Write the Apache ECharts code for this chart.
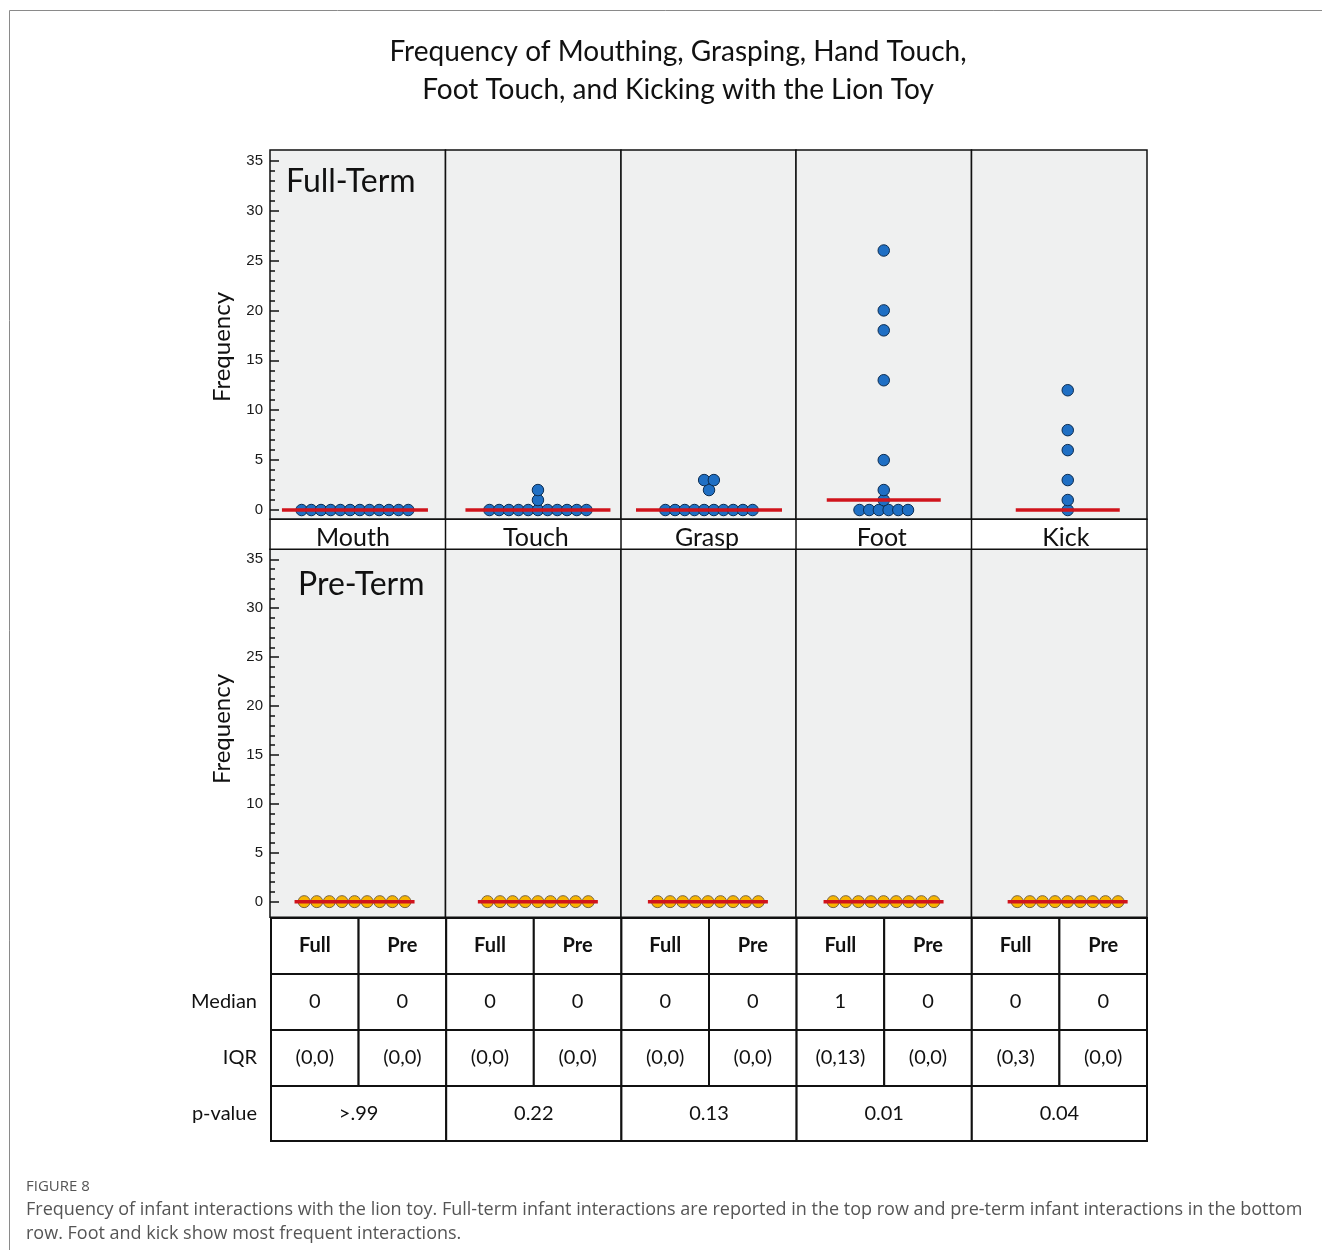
<!DOCTYPE html>
<html>
<head>
<meta charset="utf-8">
<script src="https://cdn.jsdelivr.net/npm/echarts@6/dist/echarts.min.js"></script>
<style>
  html, body { margin: 0; padding: 0; background: #fff; }
  #chart { width: 1322px; height: 1250px; }
</style>
</head>
<body>
<div id="chart"></div>
<script>
// ---------- data ----------
var categories = ['Mouth', 'Touch', 'Grasp', 'Foot', 'Kick'];

// full-term infants: one entry per visible dot
var fullMouth = [0, 0, 0, 0, 0, 0, 0, 0, 0, 0, 0, 0];
var fullTouch = [0, 0, 0, 0, 0, 0, 0, 0, 0, 0, 0, 1, 2];
var fullGrasp = [0, 0, 0, 0, 0, 0, 0, 0, 0, 0, 2, 3, 3];
var fullFoot = [0, 0, 0, 0, 0, 0, 1, 2, 5, 13, 18, 20, 26];
var fullKick = [0, 1, 3, 6, 8, 12];

// pre-term infants
var preMouth = [0, 0, 0, 0, 0, 0, 0, 0, 0];
var preTouch = [0, 0, 0, 0, 0, 0, 0, 0, 0];
var preGrasp = [0, 0, 0, 0, 0, 0, 0, 0, 0];
var preFoot = [0, 0, 0, 0, 0, 0, 0, 0, 0];
var preKick = [0, 0, 0, 0, 0, 0, 0, 0, 0];

var medianFull = [0, 0, 0, 1, 0];
var medianPre = [0, 0, 0, 0, 0];
var iqrFull = ['(0,0)', '(0,0)', '(0,0)', '(0,13)', '(0,3)'];
var iqrPre = ['(0,0)', '(0,0)', '(0,0)', '(0,0)', '(0,0)'];
var pValues = ['>.99', '0.22', '0.13', '0.01', '0.04'];

var yTicks = [0, 5, 10, 15, 20, 25, 30, 35];
var yMinorTicks = [];
for (var t = 0; t <= 35; t++) yMinorTicks.push(t);

// ---------- layout ----------
var colEdges = [270, 445.5, 621, 796, 971.5, 1147];
var rows = [
  {
    name: 'Full-Term', series: [fullMouth, fullTouch, fullGrasp, fullFoot, fullKick], medians: medianFull,
    top: 150, bottom: 519.3, yMin: -0.93, yMax: 36.07, step: 9.7, size: 11.5,
    fill: '#1f6fc4', border: '#0c2d52',
    half: [73, 72.5, 73, 57, 52], shift: [-2.8, 4.7, 0.5, 0, 8.5],
    label: { x: 286, y: 182 }, freqY: 347
  },
  {
    name: 'Pre-Term', series: [preMouth, preTouch, preGrasp, preFoot, preKick], medians: medianPre,
    top: 549.3, bottom: 917.3, yMin: -1.6, yMax: 36.02, step: 12.6, size: 12,
    fill: '#f7b500', border: '#7a6440',
    half: [60, 60, 60, 60, 60], shift: [-3.2, 4.6, -0.6, -0.2, 8.4],
    label: { x: 298, y: 585 }, freqY: 729
  }
];
var calibri = 'Lato, "Open Sans", sans-serif';
var ink = '#111';
var red = '#d0141c';

// spread dots that share a value side by side, centred on 0
function dotPositions(vals) {
  var counts = {}, seen = {}, out = [];
  vals.forEach(function (v) { counts[v] = (counts[v] || 0) + 1; });
  vals.forEach(function (v) {
    var i = seen[v] || 0;
    seen[v] = i + 1;
    out.push([i - (counts[v] - 1) / 2, v]);
  });
  return out;
}

var grids = [], xAxes = [], yAxes = [], series = [], graphics = [];

rows.forEach(function (row, r) {
  categories.forEach(function (cat, c) {
    var gi = grids.length;
    var w = colEdges[c + 1] - colEdges[c];
    grids.push({
      left: colEdges[c], top: row.top, width: w, height: row.bottom - row.top,
      show: true, backgroundColor: '#eff0f0', borderColor: ink, borderWidth: 1.5,
      outerBoundsMode: 'none'
    });
    var R = w / row.step / 2, s = row.shift[c] / row.step;
    xAxes.push({ type: 'value', gridIndex: gi, min: -R - s, max: R - s, show: false, axisLine: { onZero: false } });
    var yi = yAxes.length;
    var base = {
      type: 'value', gridIndex: gi, min: row.yMin, max: row.yMax, position: 'left',
      axisLine: { show: false, onZero: false }, splitLine: { show: false }
    };
    if (c === 0) {
      yAxes.push(Object.assign({}, base, {
        axisTick: { show: true, inside: true, length: 9, customValues: yTicks, lineStyle: { color: ink, width: 1.5 } },
        axisLabel: { show: true, customValues: yTicks, margin: 7, color: '#1a1a1a', fontSize: 15, fontFamily: '"Liberation Sans", Arial, sans-serif' }
      }));
      yAxes.push(Object.assign({}, base, {
        axisTick: { show: true, inside: true, length: 5, customValues: yMinorTicks, lineStyle: { color: ink, width: 1.5 } },
        axisLabel: { show: false }
      }));
    } else {
      yAxes.push(Object.assign({}, base, { show: false }));
    }
    series.push({
      type: 'scatter', xAxisIndex: gi, yAxisIndex: yi, z: 2, silent: true,
      data: dotPositions(row.series[c]),
      symbolSize: row.size,
      itemStyle: { color: row.fill, borderColor: row.border, borderWidth: 1, opacity: 1 }
    });
    var h = row.half[c] / row.step, m = row.medians[c];
    series.push({
      type: 'line', xAxisIndex: gi, yAxisIndex: yi, z: 3, silent: true,
      symbol: 'none', data: [[-h, m], [h, m]],
      lineStyle: { color: red, width: 3.5 }
    });
  });

  graphics.push({
    type: 'text', x: row.label.x, y: row.label.y, z: 10,
    style: { text: row.name, fill: ink, fontSize: 32, fontFamily: calibri, align: 'left', verticalAlign: 'middle' }
  });
  graphics.push({
    type: 'text', x: 222, y: row.freqY, rotation: Math.PI / 2, z: 10,
    style: { text: 'Frequency', fill: ink, fontSize: 24, fontFamily: calibri, align: 'center', verticalAlign: 'middle' }
  });
});

// category band between the two rows
graphics.push({
  type: 'rect', z: 5, shape: { x: 270, y: 519.3, width: 877, height: 30 },
  style: { fill: '#fff', stroke: ink, lineWidth: 1.5 }
});
categories.forEach(function (cat, c) {
  if (c > 0) {
    graphics.push({
      type: 'line', z: 6, shape: { x1: colEdges[c], y1: 519.3, x2: colEdges[c], y2: 549.3 },
      style: { stroke: ink, lineWidth: 1.5 }
    });
  }
  var cx = (colEdges[c] + colEdges[c + 1]) / 2 + rows[0].shift[c];
  graphics.push({
    type: 'text', x: cx - 2, y: 538, z: 7,
    style: { text: cat, fill: ink, fontSize: 25, fontFamily: calibri, align: 'center', verticalAlign: 'middle' }
  });
});

// summary table
var tLeft = 271, tRight = 1147, cw = (tRight - tLeft) / 10;
var rowY = [918, 974, 1030, 1086, 1141];
var rowLabels = ['', 'Median', 'IQR', 'p-value'];
function cell(x, y, w, h, text, bold) {
  graphics.push({
    type: 'rect', z: 5, shape: { x: x, y: y, width: w, height: h },
    style: { fill: '#fff', stroke: ink, lineWidth: 2 }
  });
  graphics.push({
    type: 'text', x: x + w / 2, y: y + h / 2, z: 6,
    style: { text: text, fill: ink, fontSize: 20, fontWeight: bold ? 'bold' : 'normal', fontFamily: calibri, align: 'center', verticalAlign: 'middle' }
  });
}
categories.forEach(function (cat, c) {
  var x0 = tLeft + cw * 2 * c;
  cell(x0, rowY[0], cw, rowY[1] - rowY[0], 'Full', true);
  cell(x0 + cw, rowY[0], cw, rowY[1] - rowY[0], 'Pre', true);
  cell(x0, rowY[1], cw, rowY[2] - rowY[1], String(medianFull[c]));
  cell(x0 + cw, rowY[1], cw, rowY[2] - rowY[1], String(medianPre[c]));
  cell(x0, rowY[2], cw, rowY[3] - rowY[2], iqrFull[c]);
  cell(x0 + cw, rowY[2], cw, rowY[3] - rowY[2], iqrPre[c]);
  cell(x0, rowY[3], cw * 2, rowY[4] - rowY[3], pValues[c]);
});
rowLabels.forEach(function (lab, i) {
  if (!lab) return;
  graphics.push({
    type: 'text', x: 257, y: (rowY[i] + rowY[i + 1]) / 2, z: 6,
    style: { text: lab, fill: ink, fontSize: 20, fontFamily: calibri, align: 'right', verticalAlign: 'middle' }
  });
});

// title
graphics.push({
  type: 'text', x: 678, y: 52, z: 10,
  style: { text: 'Frequency of Mouthing, Grasping, Hand Touch,', fill: ink, fontSize: 28, fontFamily: calibri, align: 'center', verticalAlign: 'middle' }
});
graphics.push({
  type: 'text', x: 678, y: 90, z: 10,
  style: { text: 'Foot Touch, and Kicking with the Lion Toy', fill: ink, fontSize: 28, fontFamily: calibri, align: 'center', verticalAlign: 'middle' }
});

// caption and frame
var capFont = '"Open Sans", "Noto Sans", sans-serif';
graphics.push({
  type: 'text', x: 26, y: 1187, z: 10,
  style: { text: 'FIGURE 8', fill: '#555', fontSize: 15, fontFamily: capFont, align: 'left', verticalAlign: 'middle' }
});
graphics.push({
  type: 'text', x: 26, y: 1210, z: 10,
  style: { text: 'Frequency of infant interactions with the lion toy. Full-term infant interactions are reported in the top row and pre-term infant interactions in the bottom', fill: '#555', fontSize: 18, fontFamily: capFont, align: 'left', verticalAlign: 'middle' }
});
graphics.push({
  type: 'text', x: 26, y: 1234, z: 10,
  style: { text: 'row. Foot and kick show most frequent interactions.', fill: '#555', fontSize: 18, fontFamily: capFont, align: 'left', verticalAlign: 'middle' }
});
graphics.push({
  type: 'polyline', z: 10, shape: { points: [[9.5, 1250], [9.5, 10.5], [1322, 10.5]] },
  style: { stroke: '#8a8a8a', lineWidth: 1, fill: null }
});

var chart = echarts.init(document.getElementById('chart'), null, { renderer: 'canvas' });
chart.setOption({
  animation: false,
  backgroundColor: '#fff',
  grid: grids,
  xAxis: xAxes,
  yAxis: yAxes,
  series: series,
  graphic: graphics
});
window.addEventListener('resize', function () { chart.resize(); });
</script>
</body>
</html>
